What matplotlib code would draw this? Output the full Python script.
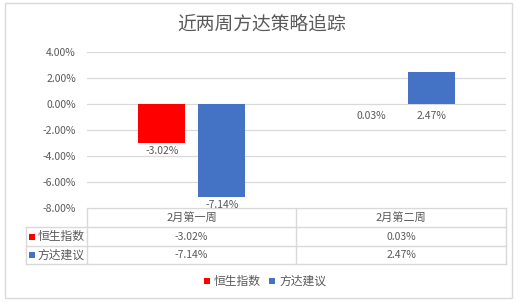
import matplotlib
matplotlib.use("Agg")
import matplotlib.pyplot as plt
from matplotlib.patches import Rectangle

plt.rcParams['font.family'] = ['Noto Sans CJK SC', 'DejaVu Sans']

title = "近两周方达策略追踪"
categories = ["2月第一周", "2月第二周"]
series_names = ["恒生指数", "方达建议"]
hsi_values = [-3.02, 0.03]
fd_values = [-7.14, 2.47]
y_ticks = [4, 2, 0, -2, -4, -6, -8]

colors = ["#FF0000", "#4472C4"]
text_color = "#595959"
grid_color = "#D9D9D9"

W, H = 527, 302
fig = plt.figure(figsize=(W / 100, H / 100), dpi=100)

# overlay in pixel coordinates for frame, title, table and legend
ov = fig.add_axes([0, 0, 1, 1])
ov.set_xlim(0, W)
ov.set_ylim(H, 0)
ov.axis("off")

ov.add_patch(Rectangle((5, 3), 507, 295, fill=False, edgecolor=grid_color, lw=1))
ov.text(262, 24, title, ha="center", va="center", fontsize=13.5, color=text_color)

# bar chart area
ax = fig.add_axes([87 / W, (H - 208) / H, (506 - 87) / W, (208 - 52) / H])
ax.set_xlim(-0.5, 1.5)
ax.set_ylim(-8, 4)
for s in ax.spines.values():
    s.set_visible(False)
ax.set_xticks([])
ax.set_yticks(y_ticks)
ax.set_yticklabels([f"{v:.2f}%" for v in y_ticks], fontsize=7.5, color=text_color)
ax.tick_params(axis="y", length=0, pad=8)
ax.grid(axis="y", color=grid_color, lw=0.9)
ax.set_axisbelow(True)

width = 0.224
offset = 0.143
series = [hsi_values, fd_values]
for i, vals in enumerate(series):
    xs = [k + (offset if i else -offset) for k in range(len(categories))]
    ax.bar(xs, vals, width=width, color=colors[i], zorder=2)
    for x, v in zip(xs, vals):
        if v < 0:
            ax.annotate(f"{v:.2f}%", (x, v), xytext=(0, -2), textcoords="offset points",
                        ha="center", va="top", fontsize=7.5, color=text_color)
        else:
            ax.annotate(f"{v:.2f}%", (x, 0), xytext=(0, -5), textcoords="offset points",
                        ha="center", va="top", fontsize=7.5, color=text_color)

# data table beneath the axis
rows_y = [208, 227, 246, 264]
col_x = [26, 87, 296, 506]
lc = dict(color=grid_color, lw=1)
ov.plot([87, 506], [208, 208], **lc)
for y in rows_y[1:]:
    ov.plot([26, 506], [y, y], **lc)
ov.plot([26, 26], [227, 264], **lc)
for x in col_x[1:]:
    ov.plot([x, x], [208, 264], **lc)

centers = [(87 + 296) / 2, (296 + 506) / 2]
for c, cat in zip(centers, categories):
    ov.text(c, 217.5, cat, ha="center", va="center", fontsize=8, color=text_color)
for r, (name, vals) in enumerate(zip(series_names, series)):
    yc = (rows_y[r + 1] + rows_y[r + 2]) / 2
    ov.add_patch(Rectangle((29, yc - 3), 6, 6, color=colors[r], lw=0))
    ov.text(37.5, yc, name, ha="left", va="center", fontsize=8.5, color=text_color)
    for c, v in zip(centers, vals):
        ov.text(c, yc, f"{v:.2f}%", ha="center", va="center", fontsize=7.5, color=text_color)

# legend
leg_y = 281
for x0, name, col in zip([204, 269], series_names, colors):
    ov.add_patch(Rectangle((x0, leg_y - 3), 6, 6, color=col, lw=0))
    ov.text(x0 + 10, leg_y, name, ha="left", va="center", fontsize=8.5, color=text_color)

fig.savefig("out.png", dpi=100)
